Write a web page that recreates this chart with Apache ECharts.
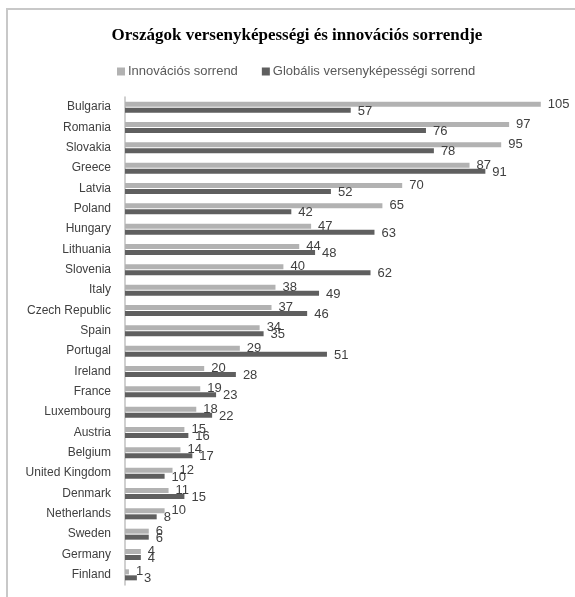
<!DOCTYPE html>
<html>
<head>
<meta charset="utf-8">
<script src="https://cdn.jsdelivr.net/npm/echarts@6/dist/echarts.min.js"></script>
<style>
html,body{margin:0;padding:0;background:#fff;}
#c{width:575px;height:597px;}
</style>
</head>
<body>
<div id="c"></div>
<script>
const categories = ["Bulgaria","Romania","Slovakia","Greece","Latvia","Poland","Hungary","Lithuania","Slovenia","Italy","Czech Republic","Spain","Portugal","Ireland","France","Luxembourg","Austria","Belgium","United Kingdom","Denmark","Netherlands","Sweden","Germany","Finland"];
const innovacios = [105,97,95,87,70,65,47,44,40,38,37,34,29,20,19,18,15,14,12,11,10,6,4,1];
const globalis = [57,76,78,91,52,42,63,48,62,49,46,35,51,28,23,22,16,17,10,15,8,6,4,3];
const seriesNames = ["Innovációs sorrend","Globális versenyképességi sorrend"];
const titleText = "Országok versenyképességi és innovációs sorrendje";

const chart = echarts.init(document.getElementById('c'), null, {renderer:'canvas'});
const labelStyle = (dy) => ({
  show: true, position: 'right', distance: 7,
  fontFamily: 'Liberation Sans', fontSize: 13, color: '#404040',
  offset: [0, dy]
});
chart.setOption({
  animation: false,
  backgroundColor: '#fff',
  graphic: [{
    type: 'rect', shape: {x: 7, y: 9, width: 600, height: 620},
    style: {fill: 'none', stroke: '#c8c8c8', lineWidth: 2}, silent: true
  }],
  title: {
    text: titleText, left: 292, top: 22, textAlign: 'center',
    textStyle: {fontFamily: 'Liberation Serif', fontWeight: 'bold', fontSize: 17, color: '#000'}
  },
  legend: {
    top: 60, left: 112, itemWidth: 8, itemHeight: 8, itemGap: 24,
    icon: 'rect',
    textStyle: {fontFamily: 'Liberation Sans', fontSize: 13, color: '#595959', padding: [0, 0, 0, -2]},
    data: seriesNames
  },
  grid: {left: 125, top: 97, height: 488, width: 435.6, containLabel: false},
  xAxis: {
    type: 'value', min: 0, max: 110, show: false,
    splitLine: {show: false}
  },
  yAxis: {
    type: 'category', inverse: true, data: categories,
    axisLine: {show: true, lineStyle: {color: '#c0c0c0', width: 1.5}},
    axisTick: {show: false},
    axisLabel: {margin: 14, fontFamily: 'Liberation Sans', fontSize: 12, color: '#404040'}
  },
  series: [
    {name: seriesNames[0], type: 'bar', data: innovacios, barWidth: 5, barGap: '20%',
     itemStyle: {color: '#b2b2b2'}, label: labelStyle(0)},
    {name: seriesNames[1], type: 'bar', data: globalis, barWidth: 5, barGap: '20%',
     itemStyle: {color: '#5f5f5f'}, label: labelStyle(1)}
  ]
});
</script>
</body>
</html>
